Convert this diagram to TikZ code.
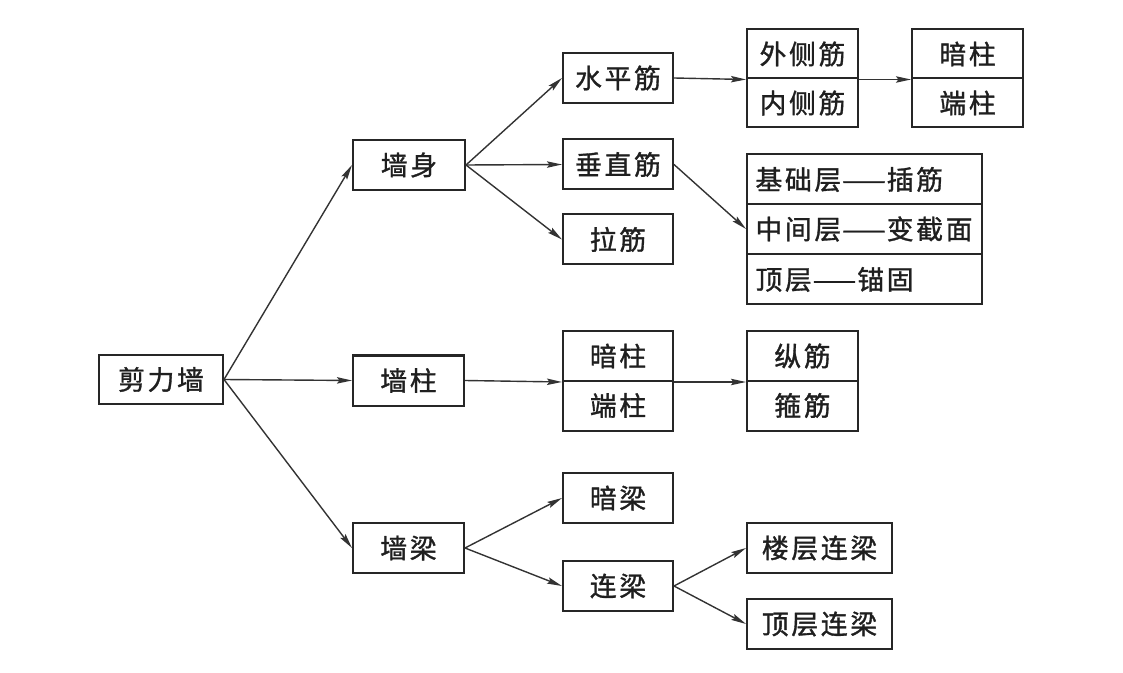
\documentclass[tikz,border=0pt]{standalone}
\usepackage{fontspec}
\setmainfont{Noto Sans CJK SC}[LetterSpace=10,FakeBold=1.2]
\usetikzlibrary{arrows.meta}
\newcommand{\longdash}{\scalebox{1.9}[1]{—}}
\begin{document}
\begin{tikzpicture}[x=0.5pt,y=-0.5pt,
  box/.style={draw=black!85,line width=1pt,inner sep=0pt,minimum width=55pt,minimum height=25pt,
    font=\fontsize{13.4}{15}\selectfont,text=black!88},
  wide/.style={box,minimum width=117.5pt,text width=109pt,align=left},
  arr/.style={draw=black!80,line width=0.7pt,-{Stealth[length=7.5pt,width=3.2pt,inset=1.2pt]}}]
\useasboundingbox (0,0) rectangle (1123,673);
% column 0
\node[box,minimum width=62pt,minimum height=24.5pt] (jlq) at (161,379.5) {剪力墙};
% column 1
\node[box,minimum width=56pt] (qs) at (409,165) {墙身};
\node[box,minimum width=55.5pt] (qz) at (408.5,380.5) {墙柱};
\node[box,minimum width=55.5pt] (ql) at (408.5,548) {墙梁};
% column 2
\node[box] (spj) at (618,78) {水平筋};
\node[box] (czj) at (618,164.5) {垂直筋};
\node[box] (lj) at (618,239.5) {拉筋};
\node[box] (az1) at (618,356) {暗柱};
\node[box] (dz1) at (618,405.5) {端柱};
\node[box] (al) at (618,498) {暗梁};
\node[box] (lianl) at (618,586) {连梁};
% column 3
\node[box,minimum width=55.5pt,minimum height=24.5pt] (wcj) at (802.5,54) {外侧筋};
\node[box,minimum width=55.5pt,minimum height=24.5pt] (ncj) at (802.5,103) {内侧筋};
\node[wide] (jcc) at (864.5,179.5) {基础层\longdash 插筋};
\node[wide] (zjc) at (864.5,229) {中间层\longdash 变截面};
\node[wide] (dc) at (864.5,279.5) {顶层\longdash 锚固};
\node[box,minimum width=55.5pt] (zj) at (802.5,356) {纵筋};
\node[box,minimum width=55.5pt] (gj) at (802.5,405.5) {箍筋};
\node[box,minimum width=72.5pt] (lcll) at (819.5,548) {楼层连梁};
\node[box,minimum width=72.5pt] (dcll) at (819.5,624) {顶层连梁};
% column 4
\node[box,minimum width=55.5pt,minimum height=24.5pt] (az2) at (967.5,54) {暗柱};
\node[box,minimum width=55.5pt,minimum height=24.5pt] (dz2) at (967.5,103) {端柱};
% connectors
\draw[arr] (jlq.east) -- (qs.west);
\draw[arr] (jlq.east) -- (qz.west);
\draw[arr] (jlq.east) -- (ql.west);
\draw[arr] (qs.east) -- (spj.west);
\draw[arr] (qs.east) -- (czj.west);
\draw[arr] (qs.east) -- (lj.west);
\draw[arr] (spj.east) -- (wcj.south west);
\draw[arr] (wcj.south east) -- (az2.south west);
\draw[arr] (czj.east) -- (zjc.west);
\draw[arr] (qz.east) -- (az1.south west);
\draw[arr] (az1.south east) -- (zj.south west);
\draw[arr] (ql.east) -- (al.west);
\draw[arr] (ql.east) -- (lianl.west);
\draw[arr] (lianl.east) -- (lcll.west);
\draw[arr] (lianl.east) -- (dcll.west);
\end{tikzpicture}
\end{document}
